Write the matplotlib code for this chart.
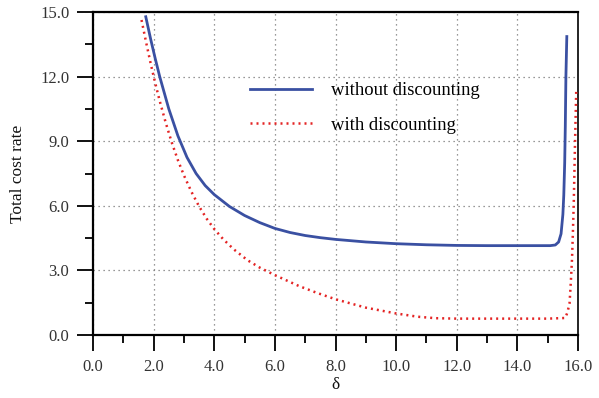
import matplotlib
matplotlib.use("Agg")
import matplotlib.pyplot as plt
from matplotlib.ticker import MultipleLocator, FormatStrFormatter

plt.rcParams['font.family'] = ['Liberation Serif', 'DejaVu Serif']

# Without discounting
x_wo = [1.74, 1.9, 2.05, 2.2, 2.5, 2.8, 3.1, 3.4, 3.7, 4.0, 4.5, 5.0, 5.5, 6.0, 6.5,
        7.0, 7.5, 8.0, 9.0, 10.0, 11.0, 12.0, 13.0, 14.0, 15.08,
        15.25, 15.36, 15.44, 15.5, 15.53, 15.56, 15.58, 15.6, 15.63]
y_wo = [14.78, 13.75, 12.85, 12.0, 10.5, 9.25, 8.25, 7.5, 6.94, 6.52, 5.97, 5.55, 5.22,
        4.95, 4.76, 4.62, 4.52, 4.44, 4.32, 4.24, 4.19, 4.16, 4.15, 4.15, 4.15,
        4.18, 4.32, 4.7, 5.6, 6.5, 8.0, 9.7, 12.0, 13.86]

# With discounting
x_w = [1.6, 1.75, 1.9, 2.05, 2.2, 2.4, 2.6, 2.8, 3.0, 3.25, 3.5, 3.75, 4.0, 4.3, 4.65,
       5.1, 5.5, 6.0, 6.8, 7.4, 8.0, 9.0, 10.0, 10.7, 11.3, 12.0, 13.0, 14.0,
       15.0, 15.58, 15.65, 15.72, 15.76, 15.8, 15.83, 15.86, 15.9, 15.94]
y_w = [14.63, 13.6, 12.62, 11.71, 10.87, 9.85, 8.93, 8.12, 7.41, 6.64, 5.97, 5.4, 4.92,
       4.44, 3.97, 3.47, 3.13, 2.78, 2.27, 1.95, 1.66, 1.27, 1.0, 0.85, 0.78, 0.76, 0.76,
       0.76, 0.76, 0.79, 1.05, 1.47, 2.4, 3.48, 4.72, 6.2, 8.9, 11.3]

xticks_major = 2.0
yticks_major = 3.0

fig = plt.figure(figsize=(5.99, 3.98), dpi=100)
ax = fig.add_axes([0.1553, 0.1583, 0.8097, 0.8115])

ax.plot(x_wo, y_wo, color='#3a50a2', lw=2.0, label='without discounting', zorder=3)
ax.plot(x_w, y_w, color='#e42424', lw=1.8, linestyle=(0, (0.8, 1.6)),
        label='with discounting', zorder=3)

ax.set_xlim(0, 16)
ax.set_ylim(0, 15)
ax.xaxis.set_major_locator(MultipleLocator(xticks_major))
ax.xaxis.set_minor_locator(MultipleLocator(1.0))
ax.yaxis.set_major_locator(MultipleLocator(yticks_major))
ax.yaxis.set_minor_locator(MultipleLocator(1.5))
ax.xaxis.set_major_formatter(FormatStrFormatter('%.1f'))
ax.yaxis.set_major_formatter(FormatStrFormatter('%.1f'))

ax.tick_params(which='major', direction='out', length=11.5, width=1.4,
               labelsize=12, pad=5.5, colors='#111111', labelcolor='#333333')
ax.tick_params(which='minor', direction='out', length=5.8, width=1.4, colors='#111111')

for s in ['left', 'bottom', 'top']:
    ax.spines[s].set_linewidth(1.6)
ax.spines['right'].set_linewidth(1.2)

ax.grid(True, which='major', color='#777777', linestyle=(0, (1, 3)), linewidth=0.9)

ax.set_ylabel('Total cost rate', fontsize=12.5, labelpad=10, color='#111111')
ax.set_xlabel('δ', fontsize=12.5, labelpad=2, color='#111111')

leg = ax.legend(loc='upper left', bbox_to_anchor=(0.29, 0.835), frameon=False,
                fontsize=13.4, handlelength=3.3, handletextpad=1.05, labelspacing=0.95)

fig.savefig('out.png', dpi=100)
